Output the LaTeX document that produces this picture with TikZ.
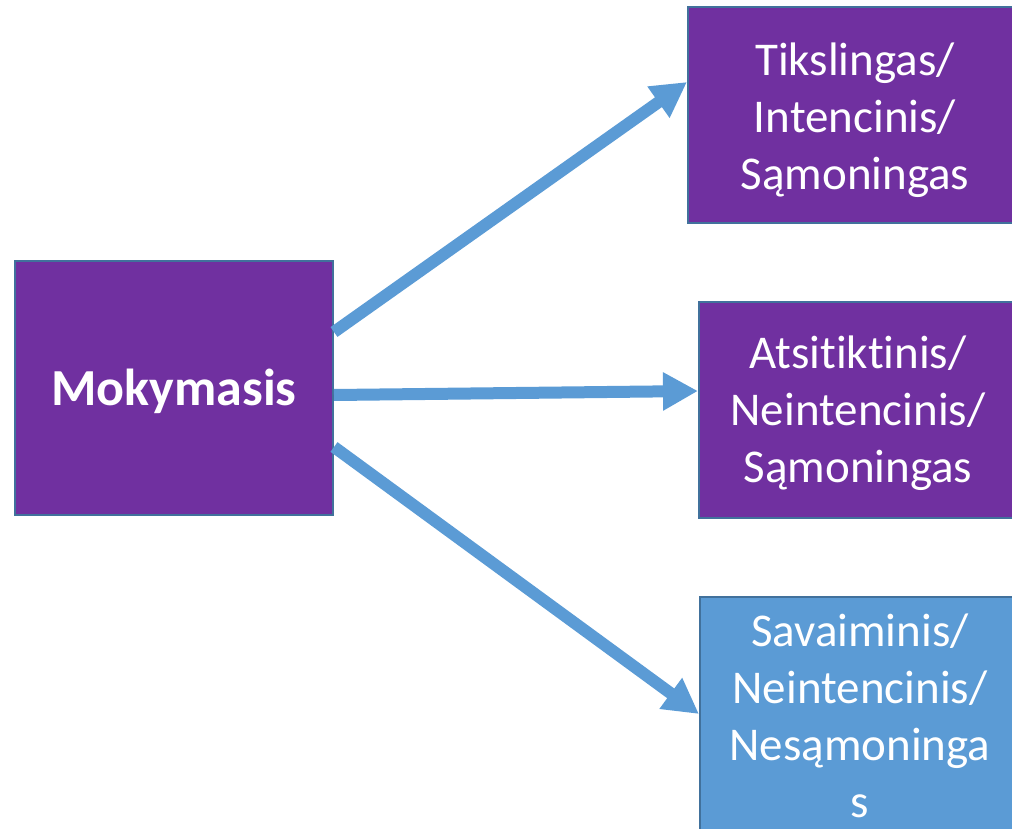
\documentclass[tikz,border=0pt]{standalone}
\usepackage{fontspec}
\setmainfont[RawFeature={-liga;-clig;-dlig;-calt}]{Carlito}
\usetikzlibrary{arrows.meta}
\definecolor{purp}{HTML}{7030A0}
\definecolor{lblue}{HTML}{5B9BD5}
\definecolor{edge}{HTML}{41719C}
\newcommand{\boxtext}[2]{\raisebox{-#1}[\height][\depth]{\begin{tabular}{@{}c@{}}#2\end{tabular}}}
\tikzset{
  box/.style={draw=edge, line width=2pt, fill=purp, text=white,
    inner sep=0pt, font=\fontsize{47}{57}\selectfont},
  conn/.style={draw=lblue, line width=12pt, -{Triangle[length=35pt,width=36pt]}}
}
\begin{document}
\begin{tikzpicture}[x=1pt,y=-1pt]
\useasboundingbox (0,0) rectangle (1012,829);
\clip (0,0) rectangle (1012,829);
\node[box, minimum width=318pt, minimum height=254pt,
  font=\fontsize{52}{62}\selectfont\bfseries] (m) at (174,388) {\boxtext{5pt}{Mokymasis}};
\node[box, minimum width=334pt, minimum height=216pt] (t) at (855,115)
  {\boxtext{6pt}{Tikslingas/\\Intencinis/\\Sąmoningas}};
\node[box, minimum width=318pt, minimum height=216pt] (a) at (858,410)
  {\boxtext{4pt}{Atsit\kern0pt ikt\kern0pt inis/\\Neintencinis/\\Sąmoningas}};
\node[box, fill=lblue, minimum width=320pt, minimum height=242pt] (s) at (860,718)
  {\boxtext{3pt}{Savaiminis/\\Neintencinis/\\Nesąmoninga\\s}};
\draw[conn] ([yshift=56pt]m.east) -- ([yshift=33pt]t.west);
\draw[conn] ([yshift=-7pt]m.east) -- ([yshift=19pt]a.west);
\draw[conn] ([yshift=-59pt]m.east) -- ([yshift=4pt]s.west);
\end{tikzpicture}
\end{document}
